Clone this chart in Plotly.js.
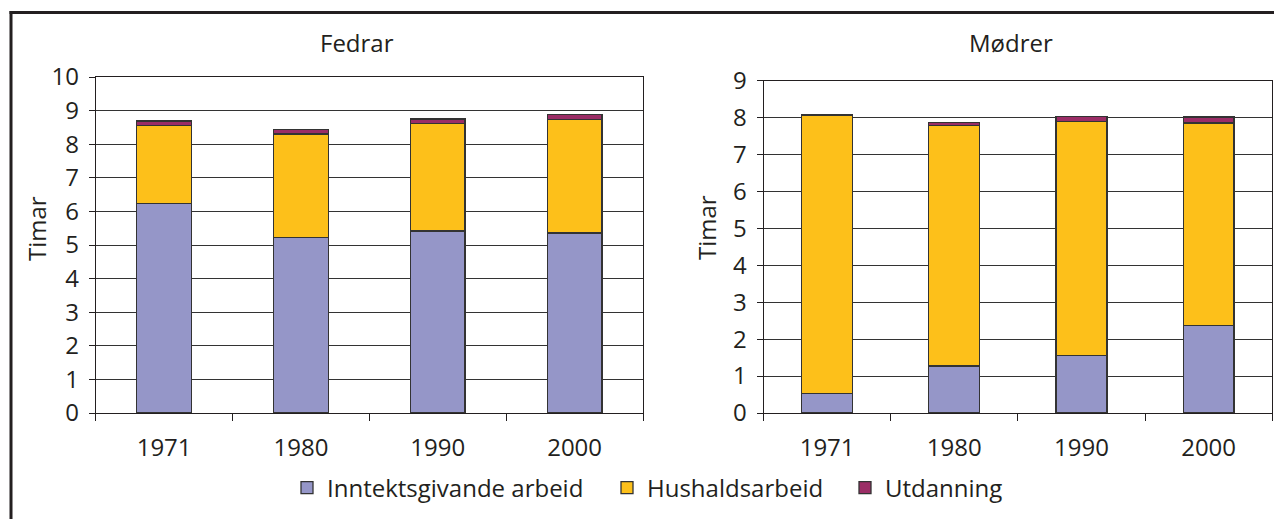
<!DOCTYPE html>
<html><head><meta charset="utf-8">
<script src="https://cdn.plot.ly/plotly-3.0.1.min.js"></script>
<style>html,body{margin:0;padding:0;background:#fff;overflow:hidden}#chart{width:1274px;height:519px}</style>
</head><body><div id="chart"></div>
<script>
// ---- data ----
const years = ['1971', '1980', '1990', '2000'];
const seriesNames = ['Inntektsgivande arbeid', 'Hushaldsarbeid', 'Utdanning'];
const fedrarInntekt = [6.23, 5.22, 5.42, 5.36];
const fedrarHushald = [2.32, 3.08, 3.19, 3.38];
const fedrarUtdanning = [0.14, 0.14, 0.14, 0.14];
const modrerInntekt = [0.52, 1.27, 1.55, 2.36];
const modrerHushald = [7.55, 6.51, 6.34, 5.49];
const modrerUtdanning = [0.0, 0.08, 0.13, 0.16];
const panelTitles = ['Fedrar', 'Mødrer'];
const yTitle = 'Timar';

// ---- style ----
const W = 1274, H = 519;
const px = x => x / W, py = y => 1 - y / H;
const colors = ['#9596C8', '#FDC01A', '#9B2D66'];
const ink = '#231F20';
const FONT = 'Open Sans, Noto Sans, sans-serif';
const FS = 24;
const legendIds = ['legend', 'legend2', 'legend3'];
const legendX = [287, 607, 845];

function traces(vals, xa, ya, show) {
  return vals.map((v, i) => ({
    type: 'bar', x: years, y: v, name: seriesNames[i],
    xaxis: xa, yaxis: ya, showlegend: show, legend: legendIds[i], legendgroup: 's' + i,
    marker: {color: colors[i], line: {color: '#333', width: 1.3}},
    hoverinfo: 'y+name'
  }));
}
const data = [
  ...traces([fedrarInntekt, fedrarHushald, fedrarUtdanning], 'x', 'y', true),
  ...traces([modrerInntekt, modrerHushald, modrerUtdanning], 'x2', 'y2', false)
];

const xCommon = {
  type: 'category', showgrid: false, showline: true, linecolor: ink, linewidth: 1,
  mirror: true, ticks: 'outside', tickson: 'boundaries', ticklen: 7, tickcolor: ink,
  tickfont: {family: FONT, size: FS, color: ink}, ticklabelstandoff: 13,
  automargin: false, fixedrange: true
};
const yCommon = {
  showgrid: true, gridcolor: '#333', gridwidth: 1, zeroline: false,
  showline: true, linecolor: ink, linewidth: 1, mirror: true,
  ticks: 'outside', ticklen: 6, tickcolor: ink, dtick: 1,
  tickfont: {family: FONT, size: FS, color: ink}, ticklabelstandoff: 5,
  automargin: false, fixedrange: true
};

const layout = {
  width: W, height: H,
  margin: {l: 0, r: 0, t: 0, b: 0},
  paper_bgcolor: '#fff', plot_bgcolor: '#fff',
  font: {family: FONT, size: FS, color: ink},
  barmode: 'stack', bargap: 0.6,
  xaxis: {...xCommon, domain: [px(95.7), px(643)], anchor: 'y'},
  yaxis: {...yCommon, domain: [py(413), py(77)], range: [0, 10], anchor: 'x'},
  xaxis2: {...xCommon, domain: [px(763.5), px(1272.2)], anchor: 'y2'},
  yaxis2: {...yCommon, domain: [py(413), py(80.5)], range: [0, 9], anchor: 'x2'},
  showlegend: true,
  annotations: [
    {text: panelTitles[0], x: px(357), y: py(43), xref: 'paper', yref: 'paper', showarrow: false, xanchor: 'center', yanchor: 'middle', font: {family: FONT, size: FS, color: ink}},
    {text: panelTitles[1], x: px(1011), y: py(43), xref: 'paper', yref: 'paper', showarrow: false, xanchor: 'center', yanchor: 'middle', font: {family: FONT, size: FS, color: ink}},
    {text: yTitle, x: px(36), y: py(229), xref: 'paper', yref: 'paper', showarrow: false, textangle: -90, xanchor: 'center', yanchor: 'middle', font: {family: FONT, size: FS, color: ink}},
    {text: yTitle, x: px(706), y: py(228), xref: 'paper', yref: 'paper', showarrow: false, textangle: -90, xanchor: 'center', yanchor: 'middle', font: {family: FONT, size: FS, color: ink}}
  ],
  shapes: [
    {type: 'line', xref: 'paper', yref: 'paper', x0: px(11), x1: px(11), y0: py(11), y1: py(530), line: {color: ink, width: 3}},
    {type: 'line', xref: 'paper', yref: 'paper', x0: px(9.5), x1: px(1290), y0: py(12.5), y1: py(12.5), line: {color: ink, width: 3}}
  ]
};
legendIds.forEach((id, i) => {
  layout[id] = {
    orientation: 'h', x: px(legendX[i]), y: py(488), xanchor: 'left', yanchor: 'middle',
    font: {family: FONT, size: FS, color: ink}, bgcolor: 'rgba(0,0,0,0)',
    itemclick: false, itemdoubleclick: false
  };
});

Plotly.newPlot('chart', data, layout, {displayModeBar: false});
</script>
</body></html>
